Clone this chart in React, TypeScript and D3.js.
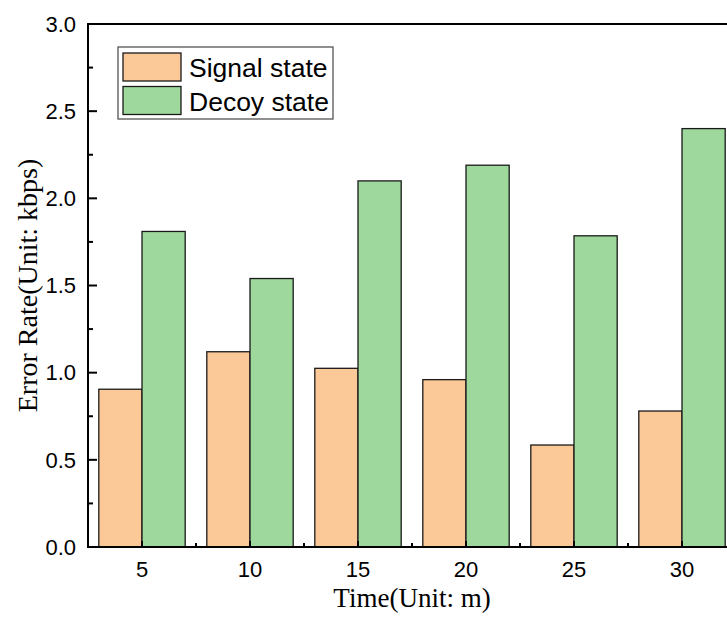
import * as d3 from 'd3';
import { useEffect, useRef } from 'react';

const width = 727;
const height = 622;

const categories = ['5', '10', '15', '20', '25', '30'];
const signalValues = [0.905, 1.12, 1.025, 0.96, 0.585, 0.78];
const decoyValues = [1.81, 1.54, 2.1, 2.19, 1.785, 2.4];
const seriesNames = ['Signal state', 'Decoy state'];
const seriesColors = ['#FBC897', '#9FD89D'];
const yTicks = [0, 0.5, 1.0, 1.5, 2.0, 2.5, 3.0];

const margin = { left: 88, top: 24, right: -9, bottom: 75 };

const App = () => {
  const svgRef = useRef<SVGSVGElement>(null);

  useEffect(() => {
    const svg = d3.select(svgRef.current);
    svg.selectAll('*').remove();

    const x0 = margin.left;
    const x1 = width - margin.right; // plot runs past the right edge
    const yTop = margin.top;
    const yBot = height - margin.bottom;

    const x = d3.scaleBand().domain(categories).range([x0, x1]);
    const xSeries = d3
      .scaleBand()
      .domain(seriesNames)
      .range([0, x.bandwidth()])
      .paddingOuter(0.25)
      .paddingInner(0);
    const y = d3.scaleLinear().domain([0, 3]).range([yBot, yTop]);

    const series = [signalValues, decoyValues];

    // bars
    series.forEach((vals, si) => {
      svg
        .append('g')
        .selectAll('rect')
        .data(vals)
        .join('rect')
        .attr('x', (d, i) => x(categories[i])! + xSeries(seriesNames[si])!)
        .attr('y', (d) => y(d))
        .attr('width', xSeries.bandwidth())
        .attr('height', (d) => y(0) - y(d))
        .attr('fill', seriesColors[si])
        .attr('stroke', '#1a1a1a')
        .attr('stroke-width', 1.3);
    });

    // frame
    svg
      .append('path')
      .attr('d', `M${x0},${yBot}V${yTop}H${x1}V${yBot}Z`)
      .attr('fill', 'none')
      .attr('stroke', '#000')
      .attr('stroke-width', 2);

    // y ticks (inward)
    const yMinor = d3.range(0.25, 3, 0.5);
    svg
      .append('g')
      .selectAll('line.major')
      .data(yTicks)
      .join('line')
      .attr('x1', x0)
      .attr('x2', x0 + 9)
      .attr('y1', (d) => y(d))
      .attr('y2', (d) => y(d))
      .attr('stroke', '#000')
      .attr('stroke-width', 2);
    svg
      .append('g')
      .selectAll('line')
      .data(yMinor)
      .join('line')
      .attr('x1', x0)
      .attr('x2', x0 + 5)
      .attr('y1', (d) => y(d))
      .attr('y2', (d) => y(d))
      .attr('stroke', '#000')
      .attr('stroke-width', 2);

    svg
      .append('g')
      .selectAll('text')
      .data(yTicks)
      .join('text')
      .attr('x', x0 - 12)
      .attr('y', (d) => y(d))
      .attr('dy', '0.35em')
      .attr('text-anchor', 'end')
      .style('font-family', 'Arial, "Liberation Sans", sans-serif')
      .style('font-size', '22px')
      .text((d) => d3.format('.1f')(d));

    // x ticks
    svg
      .append('g')
      .selectAll('line')
      .data(categories)
      .join('line')
      .attr('x1', (d) => x(d)! + x.bandwidth() / 2)
      .attr('x2', (d) => x(d)! + x.bandwidth() / 2)
      .attr('y1', yBot)
      .attr('y2', yBot - 6)
      .attr('stroke', '#000')
      .attr('stroke-width', 2);
    svg
      .append('g')
      .selectAll('line')
      .data(categories.slice(1))
      .join('line')
      .attr('x1', (d) => x(d)!)
      .attr('x2', (d) => x(d)!)
      .attr('y1', yBot)
      .attr('y2', yBot - 4)
      .attr('stroke', '#000')
      .attr('stroke-width', 2);

    svg
      .append('g')
      .selectAll('text')
      .data(categories)
      .join('text')
      .attr('x', (d) => x(d)! + x.bandwidth() / 2)
      .attr('y', yBot + 30)
      .attr('text-anchor', 'middle')
      .style('font-family', 'Arial, "Liberation Sans", sans-serif')
      .style('font-size', '22px')
      .text((d) => d);

    // axis titles
    svg
      .append('text')
      .attr('x', 412)
      .attr('y', 607)
      .attr('text-anchor', 'middle')
      .style('font-family', '"Times New Roman", "Liberation Serif", serif')
      .style('font-size', '27px')
      .text('Time(Unit: m)');

    svg
      .append('text')
      .attr('transform', `translate(37,${(yTop + yBot) / 2}) rotate(-90)`)
      .attr('text-anchor', 'middle')
      .style('font-family', '"Times New Roman", "Liberation Serif", serif')
      .style('font-size', '28px')
      .text('Error Rate(Unit: kbps)');

    // legend
    const lg = svg.append('g');
    lg.append('rect')
      .attr('x', 118)
      .attr('y', 47)
      .attr('width', 215)
      .attr('height', 72)
      .attr('fill', '#fff')
      .attr('stroke', '#555')
      .attr('stroke-width', 1.3);
    seriesNames.forEach((name, i) => {
      lg.append('rect')
        .attr('x', 123)
        .attr('y', 53 + i * 33.5)
        .attr('width', 58)
        .attr('height', 28)
        .attr('fill', seriesColors[i])
        .attr('stroke', '#1a1a1a')
        .attr('stroke-width', 1.3);
      lg.append('text')
        .attr('x', 189)
        .attr('y', 77 + i * 34)
        .style('font-family', 'Arial, "Liberation Sans", sans-serif')
        .style('font-size', '26.5px')
        .text(name);
    });
  }, []);

  return (
    <svg
      ref={svgRef}
      width={width}
      height={height}
      style={{ position: 'absolute', left: 0, top: 0, background: '#fff' }}
    />
  );
};

export default App;
